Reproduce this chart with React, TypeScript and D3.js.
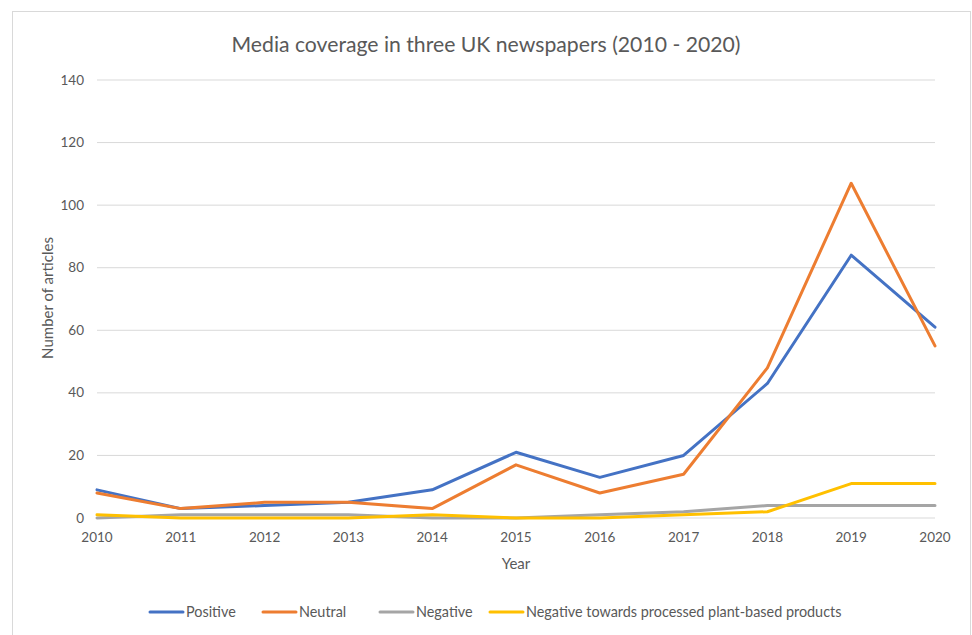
import React from "react";
import * as d3 from "d3";

const years = [2010, 2011, 2012, 2013, 2014, 2015, 2016, 2017, 2018, 2019, 2020];
const positive = [9, 3, 4, 5, 9, 21, 13, 20, 43, 84, 61];
const neutral = [8, 3, 5, 5, 3, 17, 8, 14, 48, 107, 55];
const negative = [0, 1, 1, 1, 0, 0, 1, 2, 4, 4, 4];
const negativeProcessed = [1, 0, 0, 0, 1, 0, 0, 1, 2, 11, 11];
const yTicks = [0, 20, 40, 60, 80, 100, 120, 140];
const seriesNames = ["Positive", "Neutral", "Negative", "Negative towards processed plant-based products"];

const colors = ["#4472C4", "#ED7D31", "#A5A5A5", "#FFC000"];
const FONT = "Lato, 'Open Sans', sans-serif";

export default function App() {
  const x = d3.scaleLinear().domain([2010, 2020]).range([97, 935]);
  const y = d3.scaleLinear().domain([0, 140]).range([518, 80]);
  const seriesData = [positive, neutral, negative, negativeProcessed];
  const line = d3
    .line<number>()
    .x((_, i) => x(years[i]))
    .y((d) => y(d));

  const legendLineX = [150, 263, 380, 490];

  return (
    <svg
      width={972}
      height={635}
      style={{ position: "absolute", left: 0, top: 0, background: "#fff" }}
      fontFamily={FONT}
    >
      <rect x={12.5} y={11.5} width={958} height={640} fill="#fff" stroke="#d9d9d9" strokeWidth={1} />
      <text x={486} y={52} textAnchor="middle" fontSize={21.2} fill="#595959">
        Media coverage in three UK newspapers (2010 - 2020)
      </text>
      {yTicks.map((t) => (
        <g key={t}>
          <line x1={97} x2={935} y1={y(t)} y2={y(t)} stroke="#d9d9d9" strokeWidth={1} />
          <text x={84} y={y(t) + 4.5} textAnchor="end" fontSize={13.5} fill="#595959">
            {t}
          </text>
        </g>
      ))}
      {years.map((yr) => (
        <text key={yr} x={x(yr)} y={542} textAnchor="middle" fontSize={13.5} fill="#595959">
          {yr}
        </text>
      ))}
      <text x={516} y={569} textAnchor="middle" fontSize={15} fill="#595959">
        Year
      </text>
      <text
        transform={`translate(53,298) rotate(-90)`}
        textAnchor="middle"
        fontSize={15}
        fill="#595959"
      >
        Number of articles
      </text>
      {seriesData.map((s, i) => (
        <path
          key={i}
          d={line(s) || ""}
          fill="none"
          stroke={colors[i]}
          strokeWidth={3}
          strokeLinejoin="round"
          strokeLinecap="round"
        />
      ))}
      {seriesNames.map((n, i) => (
        <g key={n}>
          <line
            x1={legendLineX[i]}
            x2={legendLineX[i] + 33}
            y1={612}
            y2={612}
            stroke={colors[i]}
            strokeWidth={3}
            strokeLinecap="round"
          />
          <text x={legendLineX[i] + 36} y={617} fontSize={14.4} fill="#595959">
            {n}
          </text>
        </g>
      ))}
    </svg>
  );
}
